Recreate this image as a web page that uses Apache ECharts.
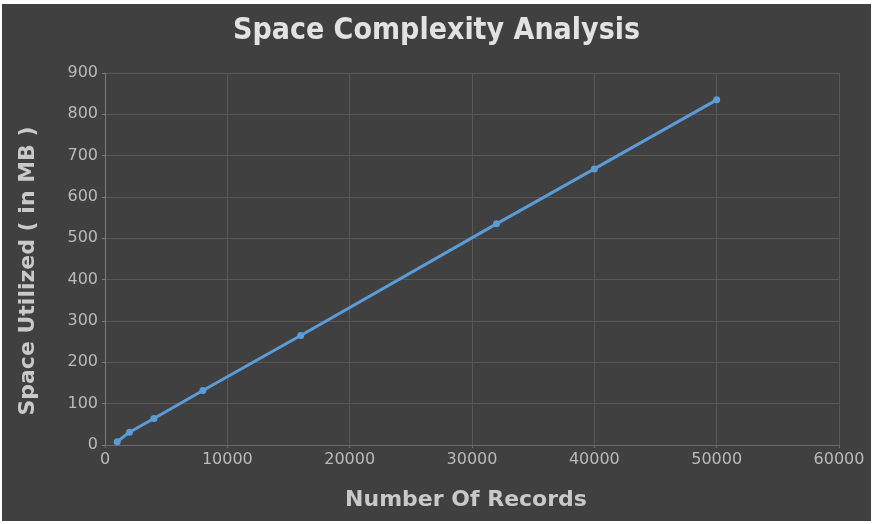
<!DOCTYPE html>
<html>
<head>
<meta charset="utf-8">
<script src="https://cdn.jsdelivr.net/npm/echarts@6/dist/echarts.min.js"></script>
<style>
  html, body { margin: 0; padding: 0; background: #ffffff; width: 873px; height: 524px; overflow: hidden; }
  #chart { position: absolute; left: 2px; top: 4px; width: 869px; height: 517px; }
</style>
</head>
<body>
<div id="chart"></div>
<script>
// Records processed and memory used (MB)
const records = [1000, 2000, 4000, 8000, 16000, 32000, 40000, 50000];
const spaceMB = [8, 31, 64, 132, 265, 535, 668, 835];
const xTicks = { min: 0, max: 60000, interval: 10000 };
const yTicks = { min: 0, max: 900, interval: 100 };

const chart = echarts.init(document.getElementById('chart'), null, { renderer: 'canvas' });
const font = 'DejaVu Sans';
const titleFont = '"DejaVu Sans Condensed", "DejaVu Sans"';

chart.setOption({
  backgroundColor: '#404040',
  animation: false,
  title: {
    text: 'Space Complexity Analysis',
    left: 'center',
    top: 7,
    textStyle: { color: '#e2e2e2', fontSize: 30, fontWeight: 'bold', fontFamily: titleFont }
  },
  grid: { left: 103, right: 32, top: 69, bottom: 76 },
  xAxis: {
    type: 'value',
    min: xTicks.min, max: xTicks.max, interval: xTicks.interval,
    name: 'Number Of Records',
    nameLocation: 'middle',
    nameGap: 44,
    nameTextStyle: { color: '#c9c9c9', fontSize: 22, fontWeight: 'bold', fontFamily: font, padding: [0, 12, 0, 0] },
    axisLine: { show: true, lineStyle: { color: '#6a6a6a', width: 1 } },
    axisTick: { show: true, length: 3, lineStyle: { color: '#6a6a6a' } },
    axisLabel: { color: '#bababa', fontSize: 16, fontFamily: font, margin: 7, formatter: v => String(v) },
    splitLine: { show: true, lineStyle: { color: '#585858', width: 1 } }
  },
  yAxis: {
    type: 'value',
    min: yTicks.min, max: yTicks.max, interval: yTicks.interval,
    name: 'Space Utilized ( in MB )',
    nameLocation: 'middle',
    nameGap: 66,
    nameTextStyle: { color: '#c9c9c9', fontSize: 22, fontWeight: 'bold', fontFamily: font, padding: [0, 24, 0, 0] },
    axisLine: { show: true, lineStyle: { color: '#7a7a7a', width: 1 } },
    axisTick: { show: true, length: 3, lineStyle: { color: '#7a7a7a' } },
    axisLabel: { color: '#bababa', fontSize: 16, fontFamily: font, margin: 7 },
    splitLine: { show: true, lineStyle: { color: '#585858', width: 1 } }
  },
  series: [{
    type: 'line',
    data: records.map((r, i) => [r, spaceMB[i]]),
    symbol: 'circle',
    symbolSize: 7,
    lineStyle: { color: '#5b9bd8', width: 3 },
    itemStyle: { color: '#5b9bd8' }
  }]
});
</script>
</body>
</html>
